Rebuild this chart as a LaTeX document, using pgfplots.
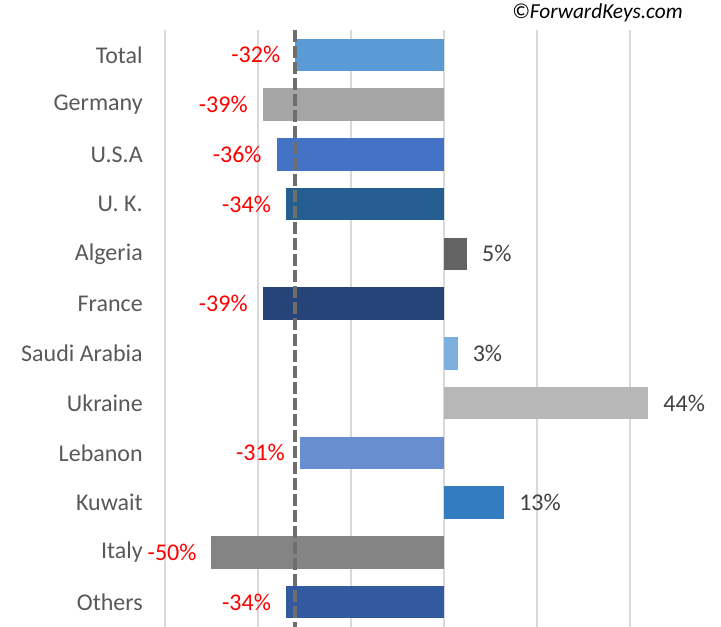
\documentclass[border=0pt]{standalone}
\usepackage{fontspec}
\setmainfont{Carlito}
\usepackage{pgfplots}
\pgfplotsset{compat=1.18}

\definecolor{cTotal}{HTML}{5B9BD5}
\definecolor{cGermany}{HTML}{A5A5A5}
\definecolor{cUSA}{HTML}{4472C4}
\definecolor{cUK}{HTML}{255E91}
\definecolor{cAlgeria}{HTML}{636363}
\definecolor{cFrance}{HTML}{264478}
\definecolor{cSaudi}{HTML}{7CAFDD}
\definecolor{cUkraine}{HTML}{B7B7B7}
\definecolor{cLebanon}{HTML}{698ED0}
\definecolor{cKuwait}{HTML}{327DC2}
\definecolor{cItaly}{HTML}{848484}
\definecolor{cOthers}{HTML}{335AA1}
\definecolor{gridgray}{HTML}{D9D9D9}
\definecolor{labelgray}{HTML}{595959}
\definecolor{posgray}{HTML}{404040}
\definecolor{dashgray}{HTML}{6E6E6E}

\pgfplotsset{
  onebar/.style={xbar, bar width=0.65, bar shift=0pt, draw=none, fill=#1,
    point meta=x, nodes near coords={\pgfmathprintnumber[assume math mode=true]{\pgfplotspointmeta}\%}},
  neg/.style={onebar=#1, nodes near coords style={anchor=east, inner sep=0pt, xshift=-11pt,
    text=red, font=\fontsize{18}{20}\selectfont}},
  pos/.style={onebar=#1, nodes near coords style={anchor=west, inner sep=0pt, xshift=11pt,
    text=posgray, font=\fontsize{18}{20}\selectfont}},
}

\begin{document}
\begin{tikzpicture}
\begin{axis}[
  at={(123.75pt,0pt)}, anchor=south west,
  scale only axis, width=417pt, height=447.75pt,
  xmin=-60, xmax=59.6, ymin=-0.5, ymax=11.5, y dir=reverse,
  axis line style={draw=none}, major tick length=0pt,
  xtick={-60,-40,-20,0,20,40}, xticklabel pos=upper, xticklabels={},
  xticklabel style={inner sep=0pt, anchor=north},
  xmajorgrids, grid style={color=gridgray, line width=1.5pt},
  ytick={0,...,11},
  yticklabels={Total,Germany,U.S.A,U. K.,Algeria,France,Saudi Arabia,Ukraine,Lebanon,Kuwait,Italy,Others},
  yticklabel style={font=\fontsize{18}{20}\selectfont, text=labelgray, anchor=east, inner sep=0pt, xshift=-16.5pt},
  clip=false,
]
\addplot[neg=cTotal]   coordinates {(-32,0)};
\addplot[neg=cGermany] coordinates {(-39,1)};
\addplot[neg=cUSA]     coordinates {(-36,2)};
\addplot[neg=cUK]      coordinates {(-34,3)};
\addplot[pos=cAlgeria] coordinates {(5,4)};
\addplot[neg=cFrance]  coordinates {(-39,5)};
\addplot[pos=cSaudi]   coordinates {(3,6)};
\addplot[pos=cUkraine] coordinates {(44,7)};
\addplot[neg=cLebanon] coordinates {(-31,8)};
\addplot[pos=cKuwait]  coordinates {(13,9)};
\addplot[neg=cItaly]   coordinates {(-50,10)};
\addplot[neg=cOthers]  coordinates {(-34,11)};

% total change reference line
\addplot[color=dashgray, line width=2.6pt, dash pattern=on 9pt off 3pt] coordinates {(-32,-0.5) (-32,11.5)};
\end{axis}
\node[anchor=east, inner sep=0pt, font=\fontsize{16}{18}\selectfont\itshape] at (512.25pt,460.5pt) {©ForwardKeys.com};
\pgfresetboundingbox
\path (0,0) rectangle (540.75pt,470.25pt);
\end{tikzpicture}
\end{document}
